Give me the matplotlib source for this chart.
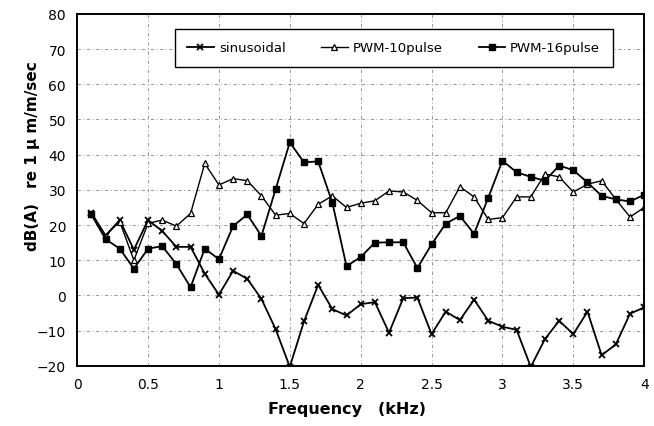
import matplotlib
matplotlib.use("Agg")
import matplotlib.pyplot as plt
import numpy as np

## frequencies in kHz, one point every 0.1 kHz
freq = np.round(np.arange(1, 41) * 0.1, 1)

## levels, dB(A) re 1 um/m/sec
sinusoidal = [23.5, 17, 21.4, 13, 21.4, 18.3, 13.8, 13.8, 6.2, 0.2,
              7, 4.7, -1, -9.6, -20.3, -7.4, 3, -3.9, -5.7, -2.5,
              -1.9, -10.6, -0.8, -0.6, -11, -4.6, -7, -1.2, -7.2, -8.9,
              -9.8, -20.3, -12.4, -7.2, -11, -4.6, -17, -13.9, -5.2, -3.4]
pwm_10pulse = [23, 17, 21, 10, 20.5, 21.4, 19.7, 23.3, 37.5, 31.4,
               33.2, 32.6, 28.3, 22.8, 23.3, 20.4, 25.9, 28.3, 25, 26.2,
               26.9, 29.7, 29.4, 27, 23.5, 23.5, 30.9, 28, 21.6, 22.1,
               28, 28, 34.5, 33.7, 29.4, 31.6, 32.6, 27.3, 22.3, 25]
pwm_16pulse = [23, 16, 13.3, 7.6, 13.3, 14, 8.9, 2.3, 13.3, 10.3,
               19.7, 23, 16.9, 30.2, 43.5, 37.8, 38.1, 26.4, 8.3, 10.9,
               15, 15.1, 15.1, 7.8, 14.5, 20.4, 22.6, 17.5, 27.8, 38.3,
               35, 33.7, 32.6, 36.9, 35.6, 32.1, 28.3, 27.3, 26.7, 28.6]

## DejaVu first, the CJK family supplies the ideographic space
plt.rcParams['font.family'] = ['DejaVu Sans', 'Noto Sans CJK JP']

fig = plt.figure(figsize=(6.54, 4.27), dpi=100)
ax = fig.add_axes([0.118, 0.141, 0.867, 0.824])

ax.plot(freq, sinusoidal, color='black', lw=1.3, marker='x', ms=5,
        mew=1.3, label='sinusoidal')
ax.plot(freq, pwm_10pulse, color='black', lw=1.0, marker='^', ms=5,
        mfc='white', mec='black', mew=0.9, label='PWM-10pulse')
ax.plot(freq, pwm_16pulse, color='black', lw=1.3, marker='s', ms=5,
        mfc='black', mec='black', label='PWM-16pulse')

## axes style
ax.set_xlim(0, 4)
ax.set_ylim(-20, 80)
ax.set_xticks(np.arange(0, 4.01, 0.5))
ax.set_xticklabels(['0', '0.5', '1', '1.5', '2', '2.5', '3', '3.5', '4'])
ax.set_yticks(range(-20, 81, 10))
ax.grid(True, color='#888888', linestyle=(0, (4, 3, 1, 3)), lw=0.6)
ax.tick_params(length=0, labelsize=10, pad=8)
for sp in ax.spines.values():
    sp.set_linewidth(1.4)

ax.set_xlabel('Frequency\u3000(kHz)', fontsize=11.5, fontweight='bold')
ax.set_ylabel('dB(A)\u3000re 1 \u03bc m/m/sec', fontsize=11, fontweight='bold')
## labels sit a little off-centre in the reference
ax.xaxis.set_label_coords(0.475, -0.1)
ax.yaxis.set_label_coords(-0.065, 0.6)

leg = ax.legend(ncol=3, loc='upper left', bbox_to_anchor=(0.172, 0.958),
                fancybox=False, shadow=False, framealpha=1, edgecolor='black',
                fontsize=9.5, handlelength=2.0, columnspacing=2.7,
                borderpad=0.95, borderaxespad=0, handletextpad=0.4)
leg.get_frame().set_linewidth(1.0)

fig.savefig('out.png', dpi=100)
